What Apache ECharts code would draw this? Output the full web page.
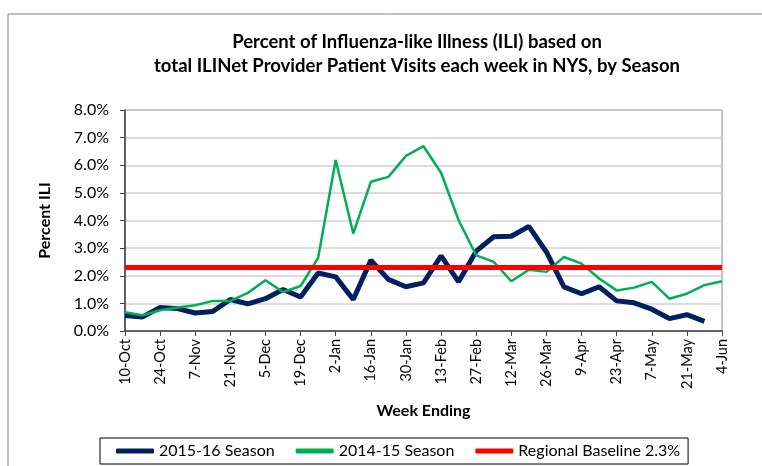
<!DOCTYPE html>
<html>
<head>
<meta charset="utf-8">
<script src="https://cdn.jsdelivr.net/npm/echarts@6/dist/echarts.min.js"></script>
<style>
  html, body { margin: 0; padding: 0; background: #fff; }
  #chart { width: 762px; height: 466px; }
</style>
</head>
<body>
<div id="chart"></div>
<script>
// week ending dates, 10-Oct through 4-Jun
const weeks = [
    '10-Oct', '17-Oct', '24-Oct', '31-Oct', '7-Nov', '14-Nov', '21-Nov', '28-Nov',
    '5-Dec', '12-Dec', '19-Dec', '26-Dec', '2-Jan', '9-Jan', '16-Jan', '23-Jan',
    '30-Jan', '6-Feb', '13-Feb', '20-Feb', '27-Feb', '5-Mar', '12-Mar', '19-Mar',
    '26-Mar', '2-Apr', '9-Apr', '16-Apr', '23-Apr', '30-Apr', '7-May', '14-May',
    '21-May', '28-May', '4-Jun'
];

const season2015 = [
    0.56, 0.51, 0.85, 0.81, 0.65, 0.71, 1.14, 0.98, 1.17, 1.50, 1.23, 2.10,
    1.96, 1.14, 2.56, 1.87, 1.60, 1.74, 2.72, 1.78, 2.89, 3.41, 3.43, 3.79,
    2.86, 1.60, 1.35, 1.60, 1.09, 1.02, 0.79, 0.45, 0.59, 0.35, null
];

const season2014 = [
    0.68, 0.57, 0.75, 0.85, 0.93, 1.09, 1.09, 1.38, 1.84, 1.41, 1.63, 2.65,
    6.19, 3.53, 5.40, 5.58, 6.34, 6.69, 5.73, 4.01, 2.74, 2.50, 1.80, 2.22,
    2.14, 2.68, 2.44, 1.90, 1.47, 1.57, 1.78, 1.17, 1.35, 1.66, 1.80
];

const baselineValue = 2.3;
const baseline = weeks.map(() => baselineValue);

const seriesNames = ['2015-16 Season', '2014-15 Season', 'Regional Baseline 2.3%'];
const font = 'Lato, "Noto Sans", sans-serif';

const chart = echarts.init(document.getElementById('chart'));

chart.setOption({
    backgroundColor: '#ffffff',
    animation: false,
    textStyle: { fontFamily: font },
    color: ['#002060', '#00b050', '#ff0000'],
    graphic: [
        {
            type: 'rect',
            shape: { x: 8, y: 14, width: 800, height: 500 },
            style: { fill: 'none', stroke: '#808080', lineWidth: 1 },
            silent: true
        },
        {
            type: 'text',
            x: 417, y: 30,
            style: {
                text: 'Percent of Influenza-like Illness (ILI) based on\ntotal ILINet Provider Patient Visits each week in NYS, by Season',
                align: 'center',
                font: 'bold 18.5px ' + font,
                lineHeight: 24,
                fill: '#000'
            }
        }
    ],
    grid: {
        left: 125, right: 40, top: 110, bottom: 135,
        show: true, borderColor: '#868686', borderWidth: 1,
        containLabel: false
    },
    legend: {
        left: 100, top: 438,
        data: seriesNames,
        icon: 'roundRect',
        itemWidth: 38, itemHeight: 5,
        itemGap: 21,
        borderColor: '#000', borderWidth: 1,
        padding: [5, 8, 5, 16],
        textStyle: { fontSize: 16, color: '#000', fontFamily: font }
    },
    xAxis: {
        type: 'category',
        data: weeks,
        boundaryGap: false,
        name: 'Week Ending',
        nameLocation: 'middle',
        nameGap: 72,
        nameTextStyle: { fontWeight: 'bold', fontSize: 16, color: '#000' },
        axisLine: { lineStyle: { color: '#404040', width: 1.5 } },
        axisTick: { show: true, interval: 1, length: 5, lineStyle: { color: '#404040' } },
        axisLabel: { interval: 1, rotate: 90, fontSize: 14.5, color: '#000', margin: 8 },
        splitLine: { show: false }
    },
    yAxis: {
        type: 'value',
        min: 0, max: 8, interval: 1,
        name: 'Percent ILI',
        nameLocation: 'middle',
        nameGap: 72,
        nameTextStyle: { fontWeight: 'bold', fontSize: 16, color: '#000' },
        axisLine: { show: true, lineStyle: { color: '#404040', width: 1.5 } },
        axisTick: { show: true, length: 5, lineStyle: { color: '#404040' } },
        axisLabel: {
            fontSize: 16, color: '#000', margin: 16,
            formatter: v => v.toFixed(1) + '%'
        },
        splitLine: { lineStyle: { color: '#d0d0d0', width: 1.5 } }
    },
    series: [
        {
            name: seriesNames[0], type: 'line', data: season2015,
            symbol: 'none', lineStyle: { width: 5, color: '#002060' }, z: 2
        },
        {
            name: seriesNames[1], type: 'line', data: season2014,
            symbol: 'none', lineStyle: { width: 2.5, color: '#00b050' }, z: 3
        },
        {
            name: seriesNames[2], type: 'line', data: baseline,
            symbol: 'none', lineStyle: { width: 5, color: '#ff0000' }, z: 4
        }
    ]
});
</script>
</body>
</html>
